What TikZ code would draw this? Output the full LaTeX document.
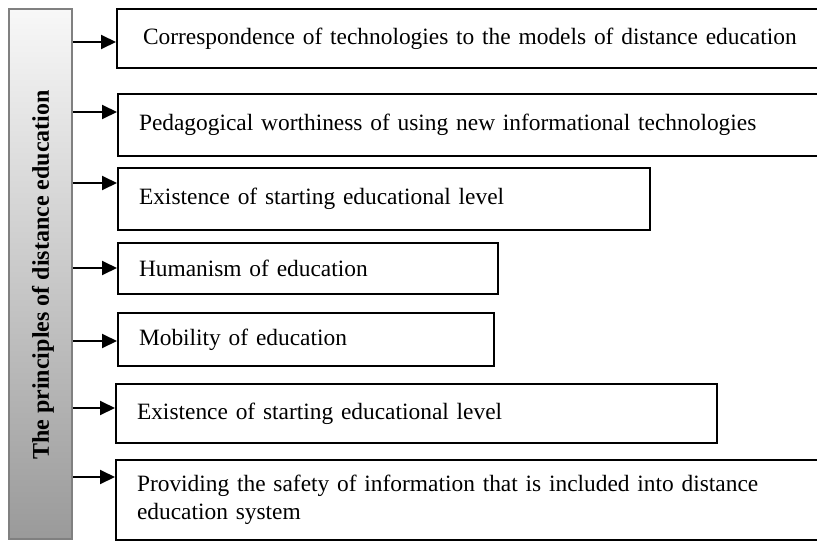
\documentclass[tikz,border=0pt]{standalone}
\usepackage{fontspec}
\setmainfont{Liberation Serif}
\usetikzlibrary{arrows.meta}
\definecolor{barTop}{HTML}{F8F8F8}
\definecolor{barBottom}{HTML}{9A9A9A}
\definecolor{barEdge}{HTML}{808080}
\begin{document}
\begin{tikzpicture}[x=1pt,y=-1pt,
  every node/.style={font=\fontsize{23.4}{28}\selectfont},
  box/.style={draw, line width=2pt, anchor=north west, align=left, inner xsep=21pt, inner ysep=0pt},
  arr/.style={line width=2pt, -{Triangle[length=15pt,width=14pt]}}]
  \clip (0,0) rectangle (817,541);
  \node[draw=barEdge, line width=2pt, top color=barTop, bottom color=barBottom,
    minimum width=63pt, minimum height=530pt, anchor=north west, inner sep=0pt] (bar) at (8,8) {};
  \node[rotate=90, inner sep=0pt, font=\bfseries\fontsize{24}{28}\selectfont] (title) at (43,275)
    {The principles of distance education};
  \node[box, inner xsep=26pt, minimum width=740pt, text width=688pt, minimum height=59pt] (b1) at (116,8)
    {Correspondence of technologies to the models of distance education};
  \node[box, minimum width=740pt, text width=698pt, minimum height=62pt] (b2) at (117,93)
    {Pedagogical worthiness of using new informational technologies};
  \node[box, minimum width=532pt, text width=490pt, minimum height=62pt] (b3) at (117,167)
    {Existence of starting educational level};
  \node[box, minimum width=380pt, text width=338pt, minimum height=51pt] (b4) at (117,242)
    {Humanism of education};
  \node[box, minimum width=376pt, text width=334pt, minimum height=53pt] (b5) at (117,312)
    {Mobility of education};
  \node[box, minimum width=601pt, text width=559pt, minimum height=59pt] (b6) at (115,383)
    {Existence of starting educational level};
  \node[box, minimum width=740pt, text width=698pt, minimum height=80pt] (b7) at (115,459)
    {Providing the safety of information that is included into distance\\education system};
  \foreach \i/\y in {1/42,2/112,3/183,4/268,5/341,6/408,7/477}
    \draw[arr] (bar.east |- 0,\y) -- (b\i.west |- 0,\y);
\end{tikzpicture}
\end{document}
